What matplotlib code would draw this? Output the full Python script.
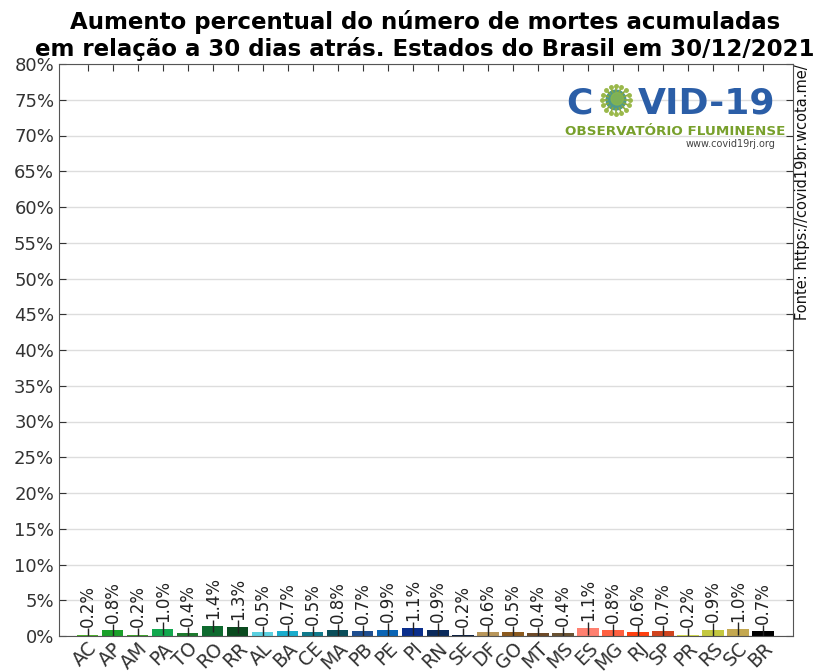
import matplotlib
matplotlib.use("Agg")
import matplotlib.pyplot as plt
import numpy as np

states = ["AC", "AP", "AM", "PA", "TO", "RO", "RR", "AL", "BA", "CE", "MA", "PB", "PE", "PI",
          "RN", "SE", "DF", "GO", "MT", "MS", "ES", "MG", "RJ", "SP", "PR", "RS", "SC", "BR"]
values = [0.2, 0.8, 0.2, 1.0, 0.4, 1.4, 1.3, 0.5, 0.7, 0.5, 0.8, 0.7, 0.9, 1.1,
          0.9, 0.2, 0.6, 0.5, 0.4, 0.4, 1.1, 0.8, 0.6, 0.7, 0.2, 0.9, 1.0, 0.7]
errors = [0.9] * 28
colors = ["#4caf2a", "#1aa02a", "#3da32a", "#12a84e", "#1e7a2e", "#0e6a2e", "#0a4a1e",
          "#5ad0e0", "#1aaccc", "#107a8c", "#0a4e5a", "#1e4e90", "#0a64b4", "#0a2e8c",
          "#0a2a5c", "#0a1e40", "#b8965a", "#8c5a1e", "#6e4a28", "#6a5232",
          "#ff8070", "#ff6040", "#ff4010", "#d0441e", "#d4dc50", "#c4c840", "#c4a850", "#000000"]
yticks = list(range(0, 85, 5))
title_lines = ["Aumento percentual do número de mortes acumuladas",
               "em relação a 30 dias atrás. Estados do Brasil em 30/12/2021"]
source = "Fonte: https://covid19br.wcota.me/"

fig = plt.figure(figsize=(8.16, 6.72), dpi=100)
ax = fig.add_axes([59/816, 36/672, 734/816, 572/672])

x = np.arange(len(states))
ax.bar(x, values, width=0.85, color=colors, zorder=2)
ax.errorbar(x, values, yerr=errors, fmt="none", ecolor="#222222", elinewidth=1, capsize=0, zorder=3)
for xi, v, e in zip(x, values, errors):
    ax.text(xi, v + e + 0.1, f"{v:.1f}%", rotation=90, ha="center", va="bottom",
            fontsize=12, color="#222222", zorder=4)

ax.set_xlim(-1.15, 28.2)
ax.set_ylim(0, 80)
ax.set_yticks(yticks)
ax.set_yticklabels([f"{t}%" for t in yticks])
ax.set_xticks(x)
ax.set_xticklabels(states, rotation=45, ha="right", rotation_mode="anchor")
ax.yaxis.grid(True, color="#dddddd", linewidth=1, zorder=0)
ax.set_axisbelow(True)
ax.tick_params(axis="both", direction="in", top=True, right=True, length=5,
               color="#333333", labelcolor="#333333")
ax.tick_params(axis="y", labelsize=13)
ax.tick_params(axis="x", labelsize=13.5, pad=2)
for s in ax.spines.values():
    s.set_color("#555555")

fig.text(425/816, 1 - 29/672, title_lines[0], ha="center", va="baseline", fontsize=16.5, fontweight="bold")
fig.text(425/816, 1 - 56/672, title_lines[1], ha="center", va="baseline", fontsize=16.5, fontweight="bold")
fig.text(803/816, 1 - 64/672, source, rotation=90, ha="center", va="top", fontsize=10.5, color="#111111")

# logo
blue = "#2b5ea7"
green = "#78a02c"
fig.text(566/816, 1 - 114/672, "C", ha="left", va="baseline", fontsize=26, fontweight="heavy", color=blue)
fig.text(775/816, 1 - 114/672, "VID-19", ha="right", va="baseline", fontsize=26, fontweight="heavy", color=blue)
vir = fig.add_axes([600/816, 1 - 116/672, 32/816, 32/672])
vir.set_xlim(-1.3, 1.3); vir.set_ylim(-1.3, 1.3); vir.axis("off")
ang = np.linspace(0, 2 * np.pi, 16, endpoint=False)
for a in ang:
    vir.plot([0.7 * np.cos(a), 1.15 * np.cos(a)], [0.7 * np.sin(a), 1.15 * np.sin(a)], color="#8aa83a", lw=1.2)
    vir.plot(1.15 * np.cos(a), 1.15 * np.sin(a), "o", color="#9ab84a", ms=2.5)
vir.add_patch(plt.Circle((0, 0), 0.8, color="#4f9a8a"))
vir.add_patch(plt.Circle((0.1, 0.1), 0.5, color="#8ab84a", alpha=0.8))
fig.text(565/816, 1 - 135/672, "OBSERVATÓRIO FLUMINENSE", ha="left", va="baseline", fontsize=9.7,
         fontweight="bold", color=green)
fig.text(775/816, 1 - 144/672, "www.covid19rj.org", ha="right", va="center", fontsize=7, color="#444444")

fig.savefig("out.png", dpi=100)
